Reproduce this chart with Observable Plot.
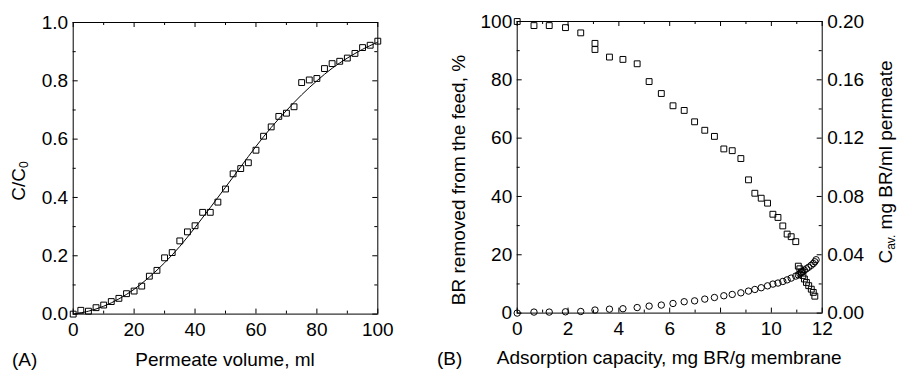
<!DOCTYPE html>
<html><head><meta charset="utf-8">
<script src="https://cdn.jsdelivr.net/npm/d3@7"></script>
<script src="https://cdn.jsdelivr.net/npm/@observablehq/plot@0.6"></script>
<style>
html,body{margin:0;padding:0;background:#fff;}
#wrap{position:relative;width:898px;height:376px;overflow:hidden;background:#fff;}
#wrap svg{position:absolute;top:0;overflow:visible;}
</style></head><body><div id="wrap"></div>
<script>
// ---- Panel A: breakthrough curve ----
const volume = [0, 2.5, 5, 7.5, 10, 12.5, 15, 17.5, 20, 22.5, 25, 27.5, 30, 32.5, 35, 37.5, 40, 42.5, 45, 47.5, 50,
  52.5, 55, 57.5, 60, 62.5, 65, 67.5, 70, 72.5, 75, 77.5, 80, 82.5, 85, 87.5, 90, 92.5, 95, 97.5, 100];
const cRatio = [0, 0.013, 0.01, 0.022, 0.031, 0.043, 0.054, 0.07, 0.079, 0.096, 0.13, 0.15, 0.193, 0.211, 0.251, 0.282, 0.303, 0.349, 0.349, 0.384, 0.429,
  0.481, 0.499, 0.519, 0.562, 0.61, 0.642, 0.678, 0.689, 0.711, 0.794, 0.803, 0.808, 0.842, 0.859, 0.867, 0.878, 0.894, 0.914, 0.922, 0.936];
const fitVolume = [0, 5, 10, 15, 20, 25, 30, 35, 40, 45, 50, 55, 60, 65, 70, 75, 80, 85, 90, 95, 100];
const fitRatio = [0, 0.01, 0.027, 0.052, 0.085, 0.127, 0.176, 0.232, 0.297, 0.365, 0.435, 0.505, 0.575, 0.64, 0.698, 0.752, 0.80, 0.843, 0.878, 0.908, 0.933];
const aXTicks = [0, 20, 40, 60, 80, 100];
const aXMinor = [10, 30, 50, 70, 90];
const aYTicks = [0, 0.2, 0.4, 0.6, 0.8, 1.0];
const aYMinor = [0.1, 0.3, 0.5, 0.7, 0.9];

// ---- Panel B: removal and average permeate concentration ----
const removedCap = [0, 0.66, 1.26, 1.9, 2.5, 3.06, 3.06, 3.63, 4.16, 4.72, 5.19, 5.67, 6.13, 6.57, 6.98, 7.38, 7.76, 8.13, 8.46, 8.8,
  9.1, 9.35, 9.6, 9.85, 10.06, 10.26, 10.45, 10.62, 10.78, 10.96, 11.06, 11.12, 11.18, 11.24, 11.3, 11.38, 11.47, 11.57, 11.65, 11.71];
const removedPct = [100, 98.6, 98.6, 97.9, 96.1, 92.5, 90.4, 87.8, 87.0, 85.5, 79.4, 75.3, 71.1, 69.5, 65.6, 62.7, 60.6, 56.3, 55.7, 53.0,
  45.7, 41.1, 39.4, 37.7, 33.9, 32.8, 29.9, 27.1, 26.2, 24.5, 16.1, 15.2, 14.1, 12.9, 11.7, 10.5, 9.4, 8.2, 7.1, 5.8];
const cavCap = [0, 0.66, 1.26, 1.9, 2.5, 3.06, 3.63, 4.16, 4.72, 5.19, 5.67, 6.13, 6.57, 6.98, 7.38, 7.76, 8.13, 8.46, 8.8,
  9.1, 9.35, 9.6, 9.85, 10.06, 10.26, 10.45, 10.62, 10.78, 10.96, 11.06, 11.12, 11.18, 11.24, 11.3, 11.38, 11.47, 11.57, 11.65, 11.71, 11.76];
const cavValue = [0, 0.0007, 0.0007, 0.0009, 0.0011, 0.0021, 0.0027, 0.003, 0.0038, 0.0048, 0.0055, 0.0066, 0.0078, 0.0084, 0.0096, 0.0107, 0.0119, 0.0128, 0.0139,
  0.0151, 0.0162, 0.0174, 0.0187, 0.0199, 0.0206, 0.0217, 0.0228, 0.024, 0.0254, 0.0262, 0.027, 0.0278, 0.0286, 0.0294, 0.0304, 0.0315, 0.0328, 0.034, 0.0352, 0.0366];
const bXTicks = [0, 2, 4, 6, 8, 10, 12];
const bXMinor = [1, 3, 5, 7, 9, 11];
const bYTicks = [0, 20, 40, 60, 80, 100];
const bYMinor = [10, 30, 50, 70, 90];
const cavTicks = [0, 0.04, 0.08, 0.12, 0.16, 0.20];
const cavToPct = 100 / 0.20; // right axis 0–0.20 spans the same height as 0–100 %

const FONT = "'Liberation Sans', Arial, Helvetica, sans-serif";

// inward ticks on all four frame sides, drawn with tick marks inset to a short length
function inwardTicks(W, H, xMaj, xMin, yMaj, yMin) {
  const M = 5, m = 3, s = {stroke: "black", strokeWidth: 1};
  return [
    Plot.tickX(xMaj, {x: d => d, insetTop: H - M, ...s}),
    Plot.tickX(xMin, {x: d => d, insetTop: H - m, ...s}),
    Plot.tickX(xMaj, {x: d => d, insetBottom: H - M, ...s}),
    Plot.tickX(xMin, {x: d => d, insetBottom: H - m, ...s}),
    Plot.tickY(yMaj, {y: d => d, insetRight: W - M, ...s}),
    Plot.tickY(yMin, {y: d => d, insetRight: W - m, ...s}),
    Plot.tickY(yMaj, {y: d => d, insetLeft: W - M, ...s}),
    Plot.tickY(yMin, {y: d => d, insetLeft: W - m, ...s})
  ];
}

const wrap = document.getElementById("wrap");

// ----- Panel A -----
const A = {left: 72.7, right: 377.3, top: 22, bottom: 313.6, width: 430};
const dataA = volume.map((v, i) => ({v, c: cRatio[i]}));
const fitA = fitVolume.map((v, i) => ({v, c: fitRatio[i]}));
const plotA = Plot.plot({
  width: A.width, height: 376,
  marginLeft: A.left, marginRight: A.width - A.right, marginTop: A.top, marginBottom: 376 - A.bottom,
  style: {fontFamily: FONT, fontSize: "19px", color: "black", background: "transparent", overflow: "visible"},
  x: {domain: [0, 100]},
  y: {domain: [0, 1]},
  marks: [
    Plot.line(fitA, {x: "v", y: "c", curve: "catmull-rom", stroke: "black", strokeWidth: 1}),
    Plot.dot(dataA, {x: "v", y: "c", symbol: "square", r: 3.3, stroke: "black", strokeWidth: 1, fill: "none"}),
    ...inwardTicks(A.right - A.left, A.bottom - A.top, aXTicks, aXMinor, aYTicks, aYMinor),
    Plot.axisX(aXTicks, {anchor: "bottom", tickSize: 0, tickPadding: 8, label: null, fill: "black"}),
    Plot.axisY(aYTicks, {anchor: "left", tickSize: 0, tickPadding: 5, label: null, tickFormat: d3.format(".1f"), fill: "black"}),
    Plot.frame({stroke: "black", strokeWidth: 1})
  ]
});
plotA.style.left = "0px";
wrap.appendChild(plotA);

// ----- Panel B -----
const BLEFT = 430;
const B = {left: 516.7 - BLEFT, right: 821.7 - BLEFT, top: 21, bottom: 312.6, width: 468};
const dataRemoved = removedCap.map((x, i) => ({x, y: removedPct[i]}));
const dataCav = cavCap.map((x, i) => ({x, c: cavValue[i]}));
const plotB = Plot.plot({
  width: B.width, height: 376,
  marginLeft: B.left, marginRight: B.width - B.right, marginTop: B.top, marginBottom: 376 - B.bottom,
  style: {fontFamily: FONT, fontSize: "19px", color: "black", background: "transparent", overflow: "visible"},
  x: {domain: [0, 12]},
  y: {domain: [0, 100]},
  marks: [
    Plot.dot(dataRemoved, {x: "x", y: "y", symbol: "square", r: 3.3, stroke: "black", strokeWidth: 1, fill: "none"}),
    Plot.dot(dataCav, {x: "x", y: d => d.c * cavToPct, symbol: "circle", r: 3.2, stroke: "black", strokeWidth: 1, fill: "none"}),
    ...inwardTicks(B.right - B.left, B.bottom - B.top, bXTicks, bXMinor, bYTicks, bYMinor),
    Plot.axisX(bXTicks, {anchor: "bottom", tickSize: 0, tickPadding: 8, label: null, fill: "black"}),
    Plot.axisY(bYTicks, {anchor: "left", tickSize: 0, tickPadding: 5, label: null, fill: "black"}),
    Plot.axisY(cavTicks.map(v => v * cavToPct), {anchor: "right", tickSize: 0, tickPadding: 5, label: null,
      tickFormat: d => (d / cavToPct).toFixed(2), fill: "black"}),
    Plot.frame({stroke: "black", strokeWidth: 1})
  ]
});
plotB.style.left = BLEFT + "px";
wrap.appendChild(plotB);

// ----- Titles (real text, with subscripts) -----
function addText(svg, x, y, parts, opts = {}) {
  const t = d3.select(svg).append("text")
    .attr("font-family", FONT).attr("font-size", 19).attr("fill", "black")
    .attr("text-anchor", opts.anchor || "middle")
    .attr("transform", `translate(${x},${y})` + (opts.rotate ? ` rotate(${opts.rotate})` : ""));
  for (const p of parts) {
    const s = t.append("tspan").text(p.text);
    if (p.sub) s.attr("font-size", 12).attr("dy", 3);
    if (p.back) s.attr("dy", -3);
  }
  return t;
}
// Panel A
addText(plotA, 12, 366, [{text: "(A)"}], {anchor: "start"});
addText(plotA, (A.left + A.right) / 2, 366, [{text: "Permeate volume, ml"}]);
addText(plotA, 25, 181, [{text: "C/C"}, {text: "0", sub: true}], {rotate: -90});
// Panel B
addText(plotB, 437 - BLEFT, 365, [{text: "(B)"}], {anchor: "start"});
addText(plotB, (B.left + B.right) / 2, 364, [{text: "Adsorption capacity, mg BR/g membrane"}]);
addText(plotB, 465 - BLEFT, 180, [{text: "BR removed from the feed, %"}], {rotate: -90});
addText(plotB, 892 - BLEFT, 162, [{text: "C"}, {text: "av.", sub: true}, {text: " mg BR/ml permeate", back: true}], {rotate: -90});
</script>
</body></html>
